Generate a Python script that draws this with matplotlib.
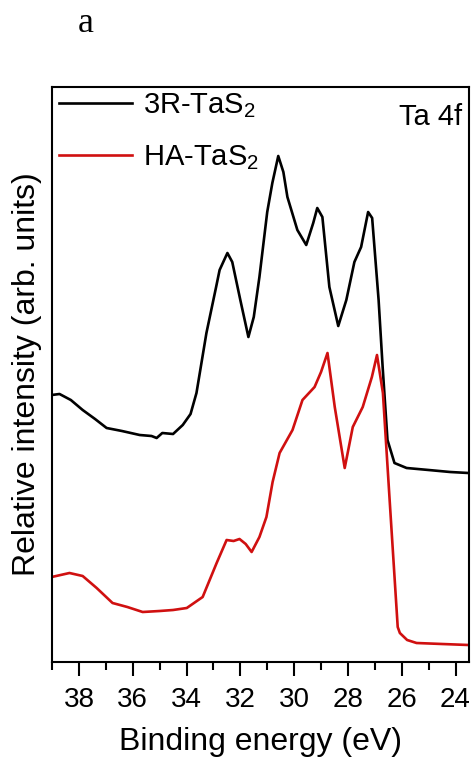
import matplotlib
matplotlib.use("Agg")
import matplotlib.pyplot as plt
from matplotlib.ticker import MultipleLocator, NullLocator

plt.rcParams['font.family'] = ['Liberation Sans', 'DejaVu Sans']
plt.rcParams['mathtext.fontset'] = 'custom'
plt.rcParams['mathtext.rm'] = 'Liberation Sans'
plt.rcParams['mathtext.it'] = 'Liberation Sans:italic'

# Binding energy (eV) and relative intensity (arb. units)
energy_3r = [39.01, 38.72, 38.3, 37.86, 37.4, 36.97, 36.4, 35.74, 35.3, 35.11, 34.9,
             34.5, 34.14, 33.85, 33.63, 33.26, 32.9, 32.77, 32.6, 32.48, 32.3, 32.0,
             31.70, 31.5, 31.29, 31.0, 30.81, 30.59, 30.4, 30.25, 29.88, 29.55, 29.29,
             29.14, 28.95, 28.69, 28.36, 28.06, 27.76, 27.51, 27.25, 27.10, 26.86,
             26.71, 26.53, 26.27, 25.82, 25.0, 24.2, 23.52]
intensity_3r = [267, 268, 262, 252, 243, 234, 231, 227, 226, 224, 229,
                228, 237, 248, 269, 329, 375, 392, 402, 409, 400, 362,
                325, 345, 385, 450, 479, 506, 490, 465, 432, 417, 439,
                454, 445, 375, 336, 362, 400, 415, 450, 444, 362,
                295, 222, 199, 194, 192, 190, 189]

energy_ha = [39.01, 38.35, 37.86, 37.34, 36.75, 36.2, 35.63, 35.0, 34.5, 33.99, 33.40,
             32.88, 32.51, 32.25, 32.03, 31.8, 31.58, 31.29, 31.03, 30.8, 30.54, 30.06,
             29.69, 29.24, 29.0, 28.76, 28.49, 28.12, 27.82, 27.45, 27.11, 26.92,
             26.70, 26.45, 26.15, 26.07, 25.8, 25.45, 24.5, 23.52]
intensity_ha = [85, 89, 86, 74, 59, 55, 50, 51, 52, 54, 65,
                99, 122, 121, 123, 118, 110, 125, 145, 180, 209, 232,
                262, 275, 290, 309, 255, 194, 235, 255, 285, 307,
                269, 162, 35, 29, 22, 19, 18, 17]

label_3r = "3R-TaS$_2$"
label_ha = "HA-TaS$_2$"

fig = plt.figure(figsize=(4.73, 7.62), dpi=100)
ax = fig.add_axes([52/473, 100/762, 417/473, 575/762])

ax.plot(energy_3r, intensity_3r, color='black', lw=1.9, label=label_3r)
ax.plot(energy_ha, intensity_ha, color='#d01010', lw=1.9, label=label_ha)

ax.set_xlim(39, 23.5)
ax.set_ylim(0, 575)
ax.xaxis.set_major_locator(MultipleLocator(2))
ax.xaxis.set_minor_locator(MultipleLocator(1))
ax.yaxis.set_major_locator(NullLocator())
ax.tick_params(axis='x', which='major', direction='out', length=10, width=1.5,
               labelsize=20, pad=8)
ax.tick_params(axis='x', which='minor', direction='out', length=6, width=1.5)
for s in ax.spines.values():
    s.set_linewidth(1.5)

ax.set_xlabel("Binding energy (eV)", fontsize=23, labelpad=10)
ax.set_ylabel("Relative intensity (arb. units)", fontsize=23, labelpad=7)

ax.legend(loc='upper left', bbox_to_anchor=(-0.01, 1.013), frameon=False,
          fontsize=21, handlelength=2.5, handletextpad=0.35, labelspacing=0.8,
          borderaxespad=0.0)

ax.text(0.983, 0.972, "Ta 4f", transform=ax.transAxes, ha='right', va='top',
        fontsize=21)

fig.text(78/473, 1 - 24/762, "a", family='Liberation Serif', fontsize=26,
         ha='left', va='center')

fig.savefig("out.png", dpi=100)
